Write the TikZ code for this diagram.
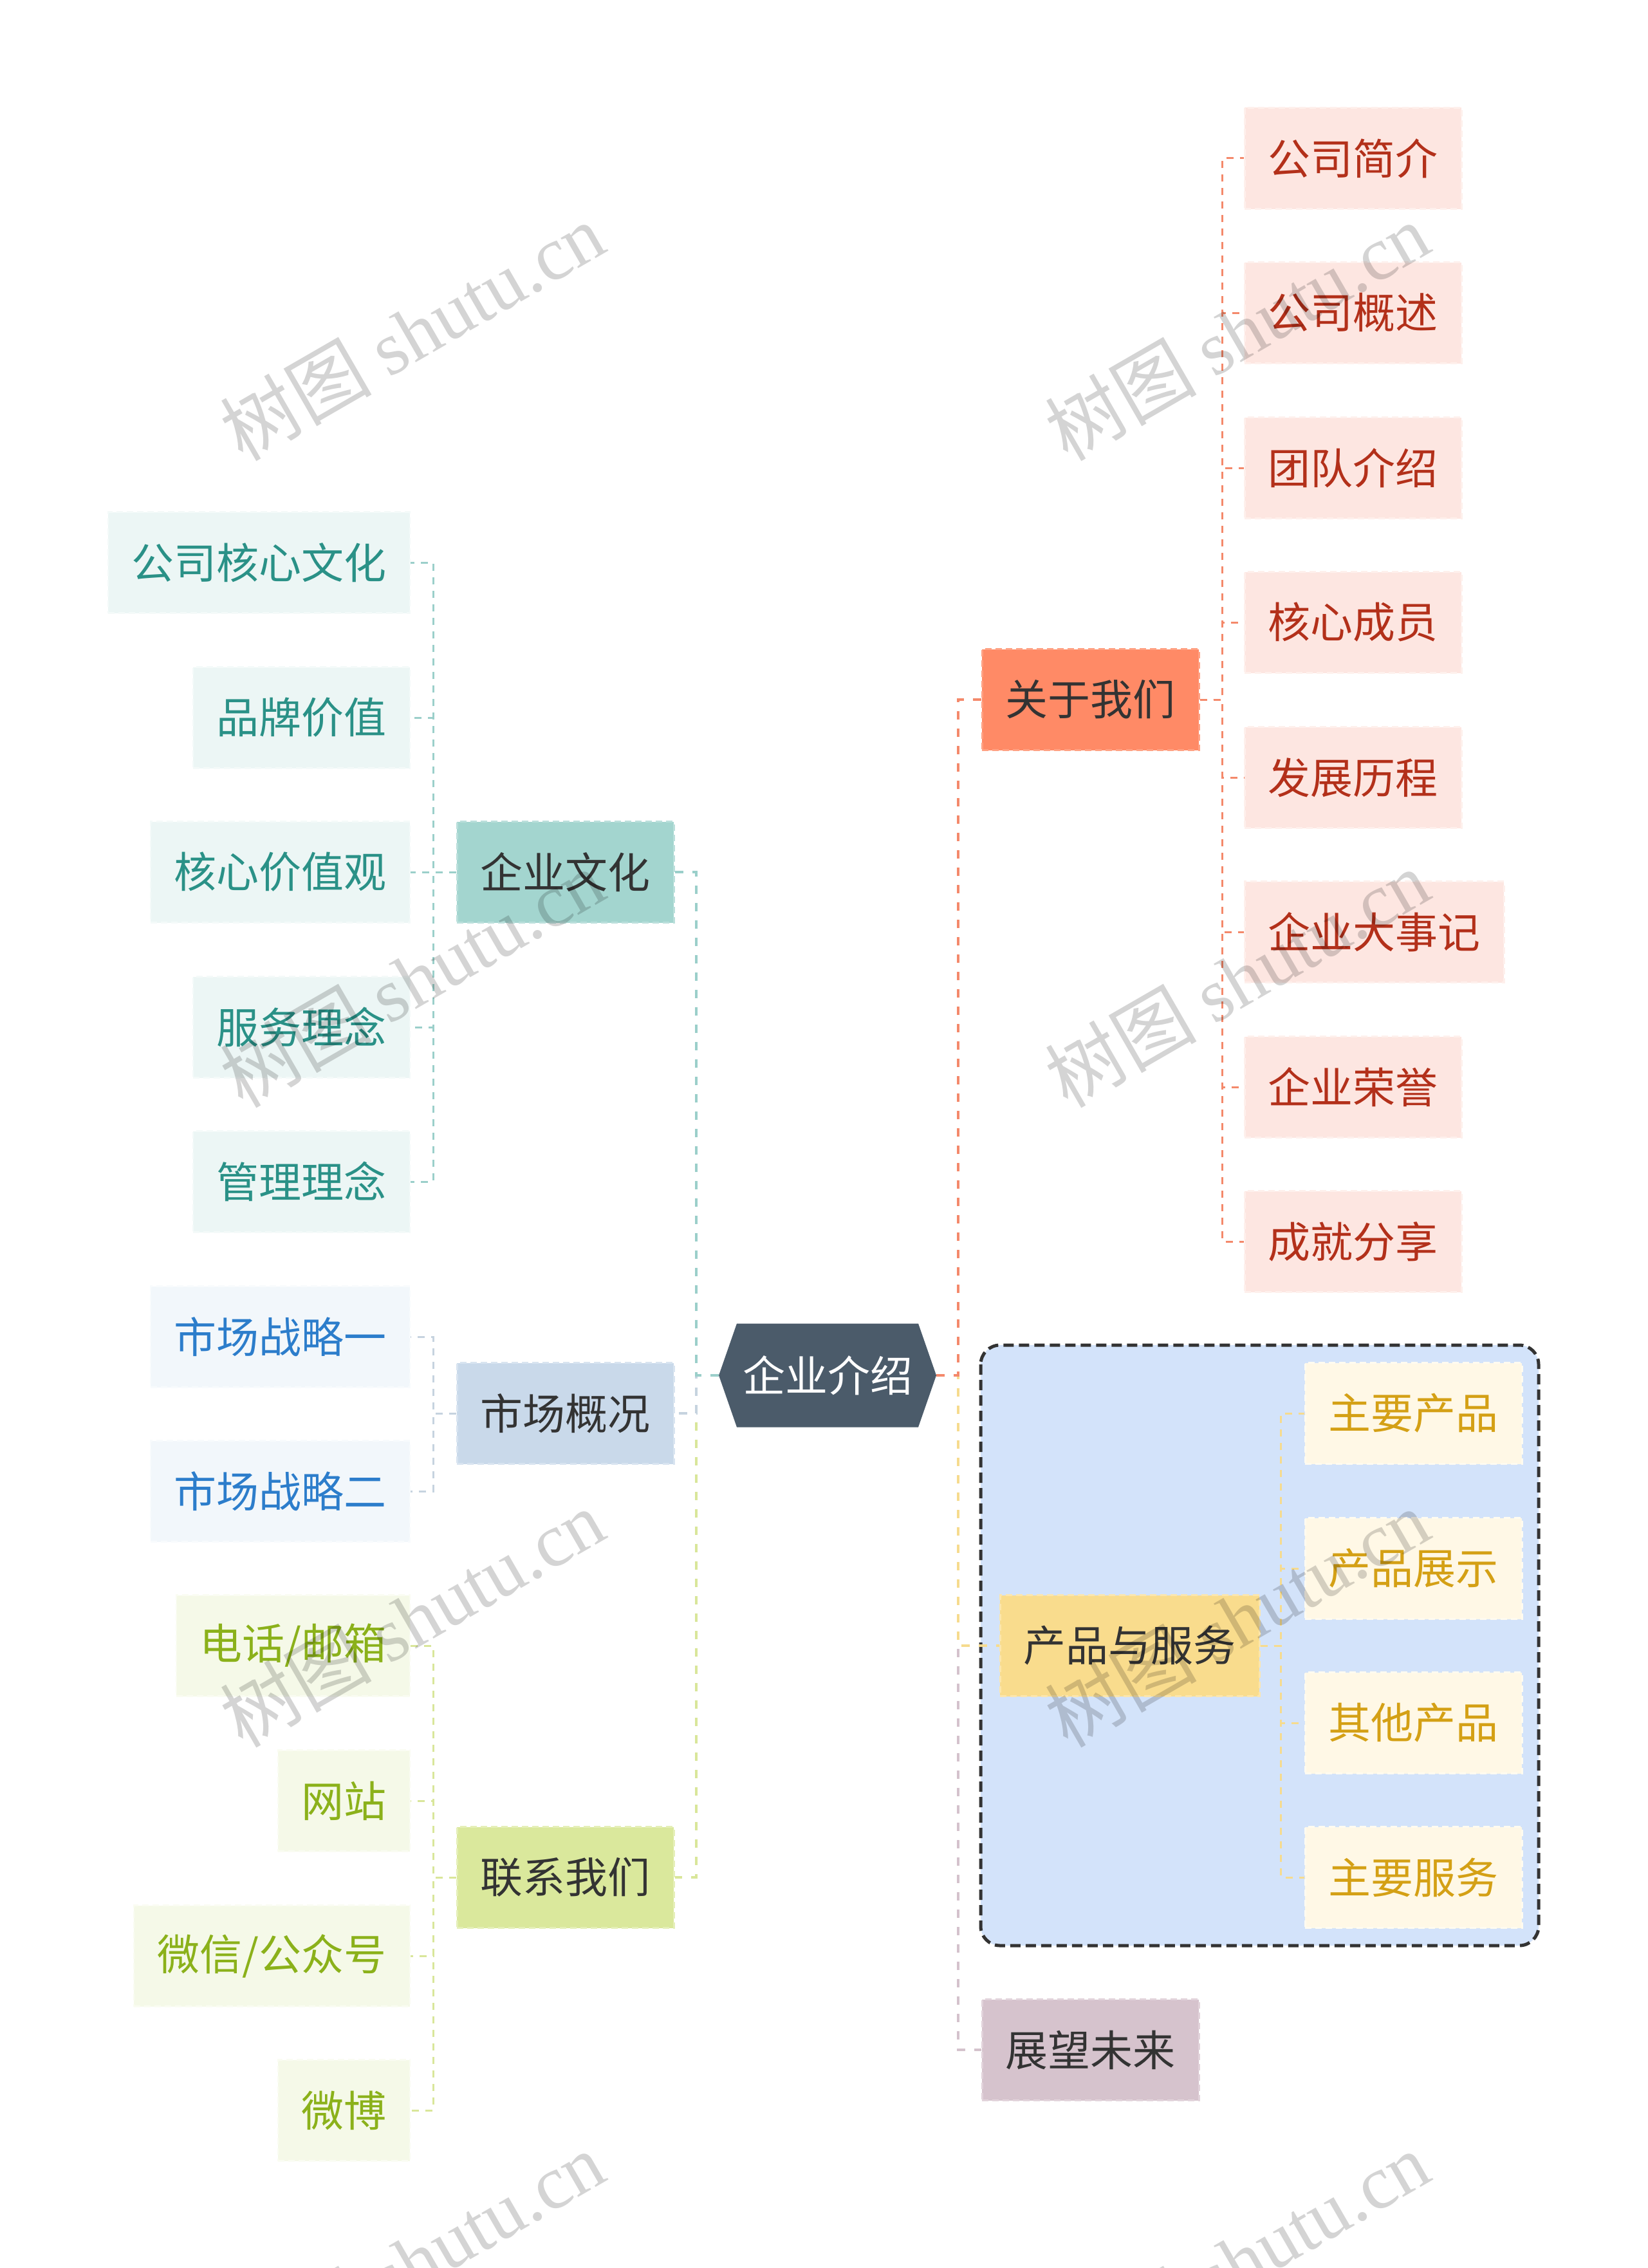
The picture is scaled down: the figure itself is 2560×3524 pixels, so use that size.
\documentclass[tikz,border=0pt]{standalone}
\usepackage{fontspec}
\setmainfont{Noto Sans CJK SC}
\newfontfamily\wmlatin{Liberation Serif}
\usetikzlibrary{calc}
\definecolor{rootF}{HTML}{4B5B6A}
\definecolor{txtdark}{HTML}{333333}
\definecolor{aboutF}{HTML}{FF8A66}
\definecolor{aboutB}{HTML}{FFA183}
\definecolor{aboutL}{HTML}{F4896B}
\definecolor{roseF}{HTML}{FDE6E1}
\definecolor{roseB}{HTML}{FEF0EC}
\definecolor{roseT}{HTML}{B3301A}
\definecolor{cultF}{HTML}{A3D5CF}
\definecolor{cultB}{HTML}{BADFDB}
\definecolor{cultL}{HTML}{9BCFCA}
\definecolor{tealF}{HTML}{ECF6F5}
\definecolor{tealB}{HTML}{F4FAF9}
\definecolor{tealT}{HTML}{2A9187}
\definecolor{mktF}{HTML}{C9D9EA}
\definecolor{mktB}{HTML}{D8E4F0}
\definecolor{mktL}{HTML}{C6D3DF}
\definecolor{blueF}{HTML}{F2F7FB}
\definecolor{blueB}{HTML}{F8FBFD}
\definecolor{blueT}{HTML}{2C7DCB}
\definecolor{contF}{HTML}{DAE89C}
\definecolor{contB}{HTML}{E5EFB8}
\definecolor{contL}{HTML}{D9E69A}
\definecolor{grnF}{HTML}{F5F9E8}
\definecolor{grnB}{HTML}{FAFCF2}
\definecolor{grnT}{HTML}{8BB11A}
\definecolor{prodF}{HTML}{F9DC8D}
\definecolor{prodB}{HTML}{FBE6AE}
\definecolor{prodL}{HTML}{F6DB8E}
\definecolor{yelF}{HTML}{FFF8E6}
\definecolor{yelB}{HTML}{FFFBF0}
\definecolor{yelT}{HTML}{D4A015}
\definecolor{futF}{HTML}{D6C3CD}
\definecolor{futB}{HTML}{E2D3DB}
\definecolor{futL}{HTML}{D4C2CC}
\definecolor{grpF}{HTML}{D3E3FA}
\definecolor{grpB}{HTML}{333333}
\begin{document}
\begin{tikzpicture}[x=1pt,y=-1pt,
  base/.style={minimum height=157pt, inner xsep=36.5pt, inner ysep=0pt,
    font=\fontsize{66}{66}\selectfont, dash pattern=on 10pt off 6pt, line width=2.5pt},
  l1/.style={base, text=txtdark},
  about/.style={l1, fill=aboutF, draw=aboutB},
  cult/.style={l1, fill=cultF, draw=cultB},
  mkt/.style={l1, fill=mktF, draw=mktB},
  cont/.style={l1, fill=contF, draw=contB},
  prod/.style={l1, fill=prodF, draw=prodB},
  fut/.style={l1, fill=futF, draw=futB},
  rose/.style={base, fill=roseF, draw=roseB, text=roseT},
  teal/.style={base, fill=tealF, draw=tealB, text=tealT},
  bluel/.style={base, fill=blueF, draw=blueB, text=blueT},
  grn/.style={base, fill=grnF, draw=grnB, text=grnT},
  yel/.style={base, fill=yelF, draw=yelB, text=yelT},
  rootnode/.style={minimum width=338pt, minimum height=161pt, inner sep=0pt, text=white,
    font=\fontsize{66}{66}\selectfont,
    path picture={\fill[rootF] (path picture bounding box.west)
      -- ([xshift=28pt]path picture bounding box.north west)
      -- ([xshift=-28pt]path picture bounding box.north east)
      -- (path picture bounding box.east)
      -- ([xshift=-28pt]path picture bounding box.south east)
      -- ([xshift=28pt]path picture bounding box.south west) -- cycle;}},
  mainconn/.style={dash pattern=on 13pt off 14pt, line width=4.5pt},
  leafconn/.style={dash pattern=on 11pt off 10pt, line width=3pt},
  wm/.style={text=black, text opacity=0.17, font=\fontsize{118}{118}\selectfont, rotate=30}
]
\useasboundingbox (0,0) rectangle (2560,3524);
\fill[white] (0,0) rectangle (2560,3524);

% boundary of the product group
\draw[fill=grpF, draw=grpB, line width=5pt, dash pattern=on 16pt off 8pt, rounded corners=30pt]
  (1524,2090) rectangle (2391,3023);

% nodes
\node[rootnode] (root) at (1286,2137) {企业介绍};

\node[about, anchor=west] (about) at (1525,1087) {关于我们};
\node[rose, anchor=west] (r1) at (1933,246) {公司简介};
\node[rose, anchor=west] (r2) at (1933,486) {公司概述};
\node[rose, anchor=west] (r3) at (1933,727) {团队介绍};
\node[rose, anchor=west] (r4) at (1933,967) {核心成员};
\node[rose, anchor=west] (r5) at (1933,1208) {发展历程};
\node[rose, anchor=west] (r6) at (1933,1448) {企业大事记};
\node[rose, anchor=west] (r7) at (1933,1689) {企业荣誉};
\node[rose, anchor=west] (r8) at (1933,1929) {成就分享};

\node[prod, anchor=west] (prod) at (1553,2557) {产品与服务};
\node[yel, anchor=west] (p1) at (2027,2196) {主要产品};
\node[yel, anchor=west] (p2) at (2027,2437) {产品展示};
\node[yel, anchor=west] (p3) at (2027,2677) {其他产品};
\node[yel, anchor=west] (p4) at (2027,2917) {主要服务};

\node[fut, anchor=west] (fut) at (1525,3185) {展望未来};

\node[cult, anchor=west] (cult) at (709,1355) {企业文化};
\node[teal, anchor=east] (c1) at (638,874) {公司核心文化};
\node[teal, anchor=east] (c2) at (638,1115) {品牌价值};
\node[teal, anchor=east] (c3) at (638,1355) {核心价值观};
\node[teal, anchor=east] (c4) at (638,1596) {服务理念};
\node[teal, anchor=east] (c5) at (638,1836) {管理理念};

\node[mkt, anchor=west] (mkt) at (709,2196) {市场概况};
\node[bluel, anchor=east] (m1) at (638,2077) {市场战略一};
\node[bluel, anchor=east] (m2) at (638,2317) {市场战略二};

\node[cont, anchor=west] (cont) at (709,2917) {联系我们};
\node[grn, anchor=east] (g1) at (638,2557) {电话/邮箱};
\node[grn, anchor=east] (g2) at (638,2798) {网站};
\node[grn, anchor=east] (g3) at (638,3039) {微信/公众号};
\node[grn, anchor=east] (g4) at (638,3279) {微博};

% connectors from the root
\draw[mainconn, futL] (root.east) -- ++(34,0) |- (fut.west);
\draw[mainconn, prodL] (root.east) -- ++(34,0) |- (prod.west);
\draw[mainconn, aboutL] (root.east) -- ++(34,0) |- (about.west);
\draw[mainconn, contL] (root.west) -- ++(-35,0) |- (cont.east);
\draw[mainconn, mktL] (root.west) -- ++(-35,0) |- (mkt.east);
\draw[mainconn, cultL] (root.west) -- ++(-35,0) |- (cult.east);

% connectors to the leaves
\foreach \n in {r1,r2,r3,r4,r5,r6,r7,r8}
  \draw[leafconn, aboutL] (about.east) -- ++(35,0) |- (\n.west);
\foreach \n in {p1,p2,p3,p4}
  \draw[leafconn, prodL] (prod.east) -- ++(32,0) |- (\n.west);
\foreach \n in {c1,c2,c3,c4,c5}
  \draw[leafconn, cultL] (cult.west) -- ++(-36,0) |- (\n.east);
\foreach \n in {m1,m2}
  \draw[leafconn, mktL] (mkt.west) -- ++(-36,0) |- (\n.east);
\foreach \n in {g1,g2,g3,g4}
  \draw[leafconn, contL] (cont.west) -- ++(-36,0) |- (\n.east);

% watermarks
\node[wm] (w1) at (640,515) {树图 {\wmlatin shutu.cn}};
\node[wm] (w2) at (1922,515) {树图 {\wmlatin shutu.cn}};
\node[wm] (w3) at (640,1520) {树图 {\wmlatin shutu.cn}};
\node[wm] (w4) at (1922,1520) {树图 {\wmlatin shutu.cn}};
\node[wm] (w5) at (640,2514) {树图 {\wmlatin shutu.cn}};
\node[wm] (w6) at (1922,2514) {树图 {\wmlatin shutu.cn}};
\node[wm] (w7) at (640,3512) {树图 {\wmlatin shutu.cn}};
\node[wm] (w8) at (1922,3512) {树图 {\wmlatin shutu.cn}};
\end{tikzpicture}
\end{document}
